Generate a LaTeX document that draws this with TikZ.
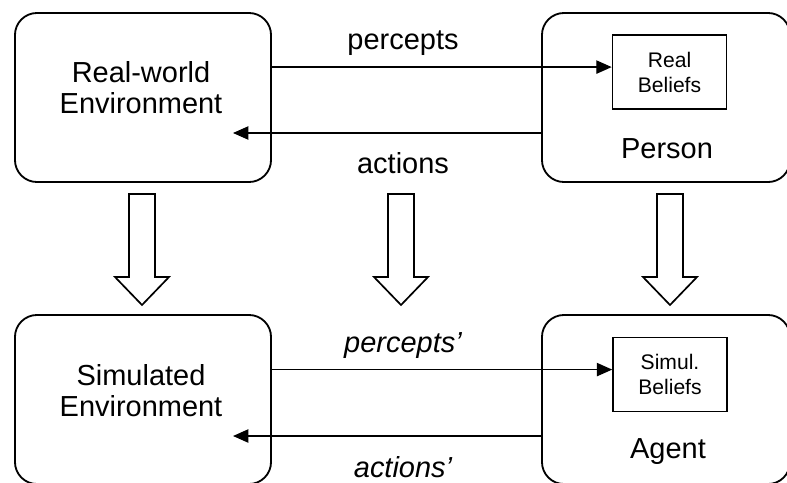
\documentclass[tikz,border=0pt]{standalone}
\usepackage{fontspec}
\setmainfont{Liberation Sans}
\usetikzlibrary{arrows.meta}
\begin{document}
\begin{tikzpicture}[x=0.025cm,y=-0.025cm,
  envbox/.style={draw,line width=1.3pt,rounded corners=0.55cm,minimum width=6.4cm,minimum height=4.225cm},
  agbox/.style={envbox,minimum width=6.2cm},
  belbox/.style={draw,line width=1.1pt,minimum width=2.85cm,minimum height=1.85cm,align=center,
    font=\fontsize{15}{17.8}\selectfont},
  txt/.style={align=center,font=\fontsize{20.6}{22}\selectfont},
  flow/.style={line width=1pt,-{Triangle[length=11pt,width=9.5pt]}},
  bigarrow/.style={draw,line width=1.2pt,fill=white}]
\useasboundingbox (0,0) rectangle (787,482);
% top row
\node[envbox] (RW) at (143,97.5) {};
\node[txt] (RWt) at (141,88) {Real-world\\Environment};
\node[agbox] (PB) at (666,97.5) {};
\node[belbox] (RB) at (669.5,72) {Real\\Beliefs};
\node[txt] (PBt) at (667,149) {Person};
% bottom row
\node[envbox] (SE) at (143,399.5) {};
\node[txt] (SEt) at (141,391) {Simulated\\Environment};
\node[agbox] (AB) at (666,399.5) {};
\node[belbox] (SB) at (670,374.5) {Simul.\\Beliefs};
\node[txt] (ABt) at (668,452) {Agent};
% percepts and actions
\coordinate (rin) at ([yshift=3.5pt]RB.west);
\coordinate (rout) at (233,133);
\draw[flow] (RW.east |- rin) -- (rin);
\draw[flow] (PB.west |- rout) -- (rout);
\node[txt] (rp) at (403,43) {percepts};
\node[txt] (ra) at (403,163) {actions};
\coordinate (sin) at ([yshift=3.5pt]SB.west);
\coordinate (sout) at (233,436);
\draw[flow] (SE.east |- sin) -- (sin);
\draw[flow] (AB.west |- sout) -- (sout);
\node[txt,font=\fontsize{20.6}{22}\selectfont\itshape] (sp) at (403,346) {percepts'};
\node[txt,font=\fontsize{20.6}{22}\selectfont\itshape] (sa) at (403,467) {actions'};
% real to simulated
\foreach \cx in {142,401,670}
  \draw[bigarrow] (\cx-13,194) -- (\cx+13,194) -- (\cx+13,277) -- (\cx+27,277)
    -- (\cx,305) -- (\cx-27,277) -- (\cx-13,277) -- cycle;
\end{tikzpicture}
\end{document}
